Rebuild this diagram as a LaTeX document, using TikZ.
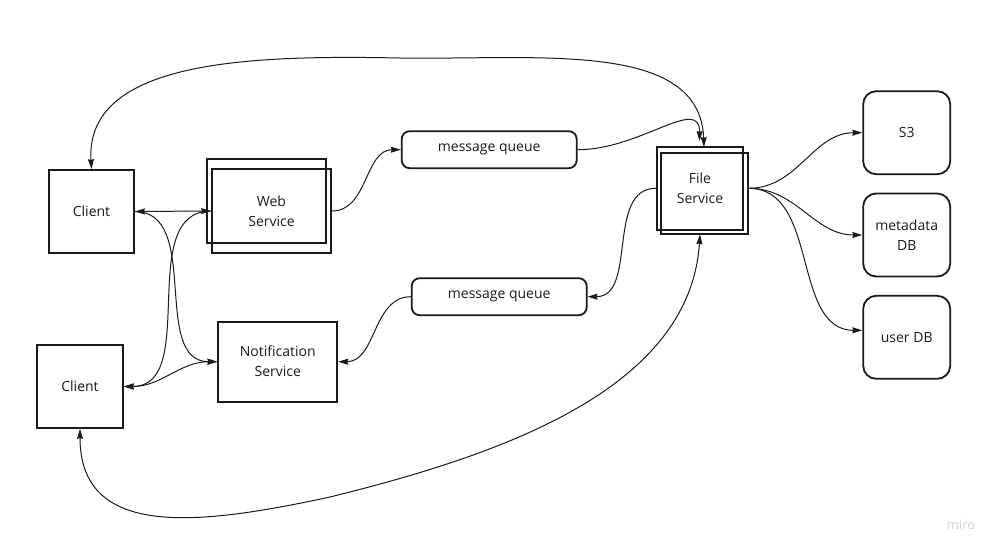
\documentclass[tikz,border=0pt]{standalone}
\usepackage{fontspec}
\setmainfont{Open Sans}
\usetikzlibrary{arrows.meta}
\definecolor{wm}{HTML}{CDCFD8}
\definecolor{ink}{HTML}{1A1A1A}
\begin{document}
\begin{tikzpicture}[x=1pt,y=1pt,
  box/.style={draw=ink, text=ink, line width=1.8pt, inner sep=0pt, align=center, font=\fontsize{14}{20}\selectfont},
  rbox/.style={box, rounded corners=13pt, minimum width=87pt, minimum height=83pt},
  qbox/.style={box, rounded corners=8pt, minimum width=175pt, minimum height=37pt},
  conn/.style={draw=ink, line width=1pt, -{Stealth[length=10pt,width=6pt,inset=1pt]}},
  bconn/.style={draw=ink, line width=1pt, {Stealth[length=10pt,width=6pt,inset=1pt]}-{Stealth[length=10pt,width=6pt,inset=1pt]}}
]
\useasboundingbox (0,0) rectangle (1000,-555);
% nodes
\node[box, minimum width=85pt, minimum height=83pt] (C1) at (91.5,-211.5) {Client};
\node[box, minimum width=86pt, minimum height=83pt] (C2) at (80,-386.5) {Client};
\node[box, minimum width=119pt, minimum height=84pt] (WSb) at (266.5,-201) {};
\node[box, minimum width=119pt, minimum height=84pt] (WS) at (271.5,-211) {Web\\Service};
\node[box, minimum width=119pt, minimum height=80pt] (NS) at (277.8,-361.7) {Notification\\Service};
\node[qbox] (MQ1) at (489.2,-149.7) {message queue};
\node[qbox] (MQ2) at (499.2,-296.7) {message queue};
\node[box, minimum width=87pt, minimum height=81pt] (FSf) at (704.2,-193.8) {};
\node[box, minimum width=86.6pt, minimum height=83.3pt] (FS) at (700,-188.3) {File\\Service};
\node[rbox] (S3) at (906.7,-132.7) {S3};
\node[rbox] (MD) at (906.7,-235) {metadata\\DB};
\node[rbox] (UD) at (906.7,-337.3) {user DB};
\node[text=wm, inner sep=0pt, font=\fontsize{13}{13}\selectfont] (miro) at (961,-525) {miro};
\coordinate (fsr) at (FS.center -| FSf.east);
\coordinate (fst) at (704,-147);
\coordinate (fsq) at (699.5,-141);
\coordinate (fsb) at (700,-234.3);
% left cluster
\draw[bconn] (C1.east) -- (WS.west);
\draw[conn] (C1.east) to[out=0,in=180] (NS.west);
\draw[conn] (WS.west) to[out=180,in=0] (C2.east);
\draw[bconn] (C2.east) to[out=0,in=180] (NS.west);
% queues
\draw[conn] (WS.east) to[out=0,in=180] (MQ1.west);
\draw[conn] (MQ1.east) .. controls (640,-150) and (700,-95) .. (fsq);
\draw[conn] (FS.west) to[out=180,in=0] (MQ2.east);
\draw[conn] (MQ2.west) to[out=180,in=0] (NS.east);
% long curves
\draw[bconn] (C1.north) .. controls (85,-60) and (250,-55) .. (400,-58)
   .. controls (540,-60) and (700,-40) .. (fst);
\draw[bconn] (C2.south) .. controls (80,-540) and (200,-525) .. (330,-497)
   .. controls (500,-455) and (690,-390) .. (fsb);
% storage
\draw[conn] (fsr) to[out=0,in=180] (S3.west);
\draw[conn] (fsr) to[out=0,in=180] (MD.west);
\draw[conn] (fsr) to[out=0,in=180] ([yshift=7pt]UD.west);
\end{tikzpicture}
\end{document}
